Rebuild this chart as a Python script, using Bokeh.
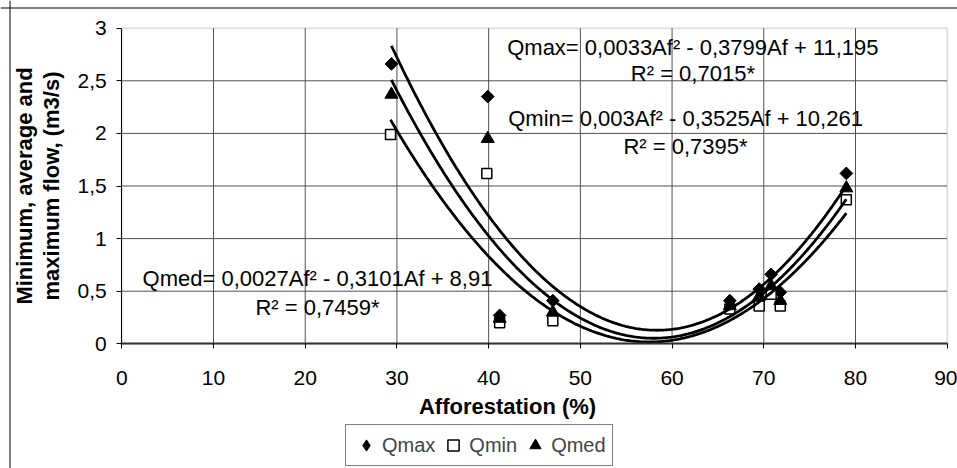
import numpy as np
from bokeh.plotting import figure
from bokeh.models import (Label, Legend, LegendItem, CustomJSTickFormatter, FixedTicker,
                          Span, BoxAnnotation)
from bokeh.embed import file_html
from bokeh.resources import INLINE

# ---------------- data ----------------
af_max = [29.4, 39.9, 41.2, 47.0, 66.3, 69.5, 70.8, 71.8, 79.0]
q_max = [2.66, 2.35, 0.27, 0.41, 0.41, 0.52, 0.66, 0.49, 1.62]

af_min = [29.3, 39.8, 41.2, 47.0, 66.3, 69.5, 70.8, 71.8, 79.0]
q_min = [1.99, 1.62, 0.20, 0.22, 0.33, 0.36, 0.47, 0.36, 1.37]

af_med = [29.4, 39.9, 41.2, 47.0, 66.3, 69.5, 70.8, 71.8, 79.0]
q_med = [2.37, 1.95, 0.24, 0.30, 0.36, 0.45, 0.55, 0.41, 1.48]

x_ticks = [0, 10, 20, 30, 40, 50, 60, 70, 80, 90]
y_ticks = [0, 0.5, 1, 1.5, 2, 2.5, 3]

series_names = ["Qmax", "Qmin", "Qmed"]
eq_texts = [
    "Qmax= 0,0033Af² - 0,3799Af + 11,195",
    "Qmin= 0,003Af² - 0,3525Af + 10,261",
    "Qmed= 0,0027Af² - 0,3101Af + 8,91",
]
r2_texts = ["R² = 0,7015*", "R² = 0,7395*", "R² = 0,7459*"]
x_title = "Afforestation (%)"
y_title = "Minimum, average and\nmaximum flow, (m3/s)"

FONT = "Liberation Sans"

# ---------------- layout (pixels inside the canvas) ----------------
W, H = 957, 468
PX_X0, PX_X90 = 121.3, 946.7      # plot-area left/right
PX_Y3, PX_Y0 = 27.7, 343.3        # plot-area top/bottom
X_MIN, X_MAX = x_ticks[0], x_ticks[-1]
Y_MIN, Y_MAX = y_ticks[0], y_ticks[-1]
sx = (PX_X90 - PX_X0) / (X_MAX - X_MIN)
sy = (PX_Y0 - PX_Y3) / (Y_MAX - Y_MIN)
xr = (X_MIN - PX_X0 / sx, X_MAX + (W - PX_X90) / sx)
yr = (Y_MIN - (H - PX_Y0) / sy, Y_MAX + PX_Y3 / sy)

p = figure(width=W, height=H, x_range=xr, y_range=yr,
           output_backend="svg", toolbar_location=None,
           min_border_left=0, min_border_right=0, min_border_top=0,
           min_border_bottom=0)
p.background_fill_color = "white"
p.border_fill_color = "white"
p.outline_line_color = None
p.xgrid.visible = False
p.ygrid.visible = False

# grid lines of the plot area (from the tick arrays)
gx = x_ticks[1:-1]
gy = y_ticks[1:-1]
p.segment(x0=gx, y0=[Y_MIN] * len(gx), x1=gx, y1=[Y_MAX] * len(gx),
          line_color="#505050", line_width=1)
p.segment(x0=[X_MIN] * len(gy), y0=gy, x1=[X_MAX] * len(gy), y1=gy,
          line_color="#505050", line_width=1)
p.add_layout(BoxAnnotation(left=X_MIN, right=X_MAX, bottom=Y_MIN, top=Y_MAX,
                           fill_color=None, line_color="#9a9a9a", line_width=2,
                           level="underlay"))

# outer chart border (left and top)
p.add_layout(Span(location=xr[0] + 9.5 / sx, dimension="height",
                  line_color="black", line_width=1))
p.add_layout(Span(location=yr[1] - 7.5 / sy, dimension="width",
                  line_color="black", line_width=1))

# axes placed at the data origin
xa, ya = p.xaxis[0], p.yaxis[0]
xa.fixed_location = Y_MIN
ya.fixed_location = X_MIN
xa.bounds = (X_MIN, X_MAX)
ya.bounds = (Y_MIN, Y_MAX)
xa.ticker = FixedTicker(ticks=x_ticks)
ya.ticker = FixedTicker(ticks=y_ticks)
ya.formatter = CustomJSTickFormatter(code="return String(tick).replace('.', ',');")
for ax in (xa, ya):
    ax.major_tick_in = 0
    ax.major_tick_out = 5
    ax.minor_tick_line_color = None
    ax.major_label_text_font = FONT
    ax.major_label_text_font_size = "21px"
    ax.major_label_text_color = "black"
    ax.major_tick_line_color = "black"
xa.axis_line_color = "#333333"
xa.axis_line_width = 2
ya.axis_line_color = "black"
xa.major_label_standoff = 22
ya.major_label_standoff = 10

ya.axis_label = y_title
ya.axis_label_text_font = FONT
ya.axis_label_text_font_size = "22px"
ya.axis_label_text_font_style = "bold"
ya.axis_label_text_color = "black"
ya.axis_label_text_line_height = 1.1
ya.axis_label_standoff = 10

# markers
r_max = p.scatter(af_max, q_max, marker="square", angle=np.pi / 4, size=9,
                  fill_color="black", line_color="black")
r_min = p.scatter(af_min, q_min, marker="square", size=10, fill_color="white",
                  line_color="black", line_width=1.5)
r_med = p.scatter(af_med, q_med, marker="triangle", size=13,
                  fill_color="black", line_color="black")
# diamond glyph used only for the legend entry of Qmax (hidden in the plot)
r_max_key = p.scatter(af_max, q_max, marker="diamond", size=13,
                      fill_color="black", line_color="black", visible=False)

# polynomial (2nd order) trend lines, least-squares fitted to each series
for xs, ys in ((af_max, q_max), (af_min, q_min), (af_med, q_med)):
    c = np.polyfit(xs, ys, 2)
    xx = np.linspace(min(xs), max(xs), 300)
    p.line(xx, np.polyval(c, xx), line_color="black", line_width=2.8)

# equation labels (centered two-line boxes)
eq_pos = [(62.27, 2.819, 2.569), (61.47, 2.139, 1.875), (21.34, 0.624, 0.342)]
for (cx, y1, y2), t1, t2 in zip(eq_pos, eq_texts, r2_texts):
    for yy, tt in ((y1, t1), (y2, t2)):
        p.add_layout(Label(x=cx, y=yy, text=tt, text_align="center",
                           text_baseline="middle", text_font=FONT,
                           text_font_size="22px", text_color="black"))

# x axis title
p.add_layout(Label(x=42.06, y=-0.596, text=x_title, text_align="center",
                   text_baseline="middle", text_font=FONT, text_font_size="22px",
                   text_font_style="bold", text_color="black"))

legend = Legend(items=[LegendItem(label=series_names[0], renderers=[r_max_key]),
                       LegendItem(label=series_names[1], renderers=[r_min]),
                       LegendItem(label=series_names[2], renderers=[r_med])],
                orientation="horizontal", location=(345, 2),
                border_line_color="black", border_line_width=1,
                background_fill_color="white", background_fill_alpha=1,
                label_text_font=FONT, label_text_font_size="20px",
                glyph_width=28, glyph_height=28, label_standoff=2,
                spacing=4, padding=6, margin=0, click_policy="none")
p.add_layout(legend)

open("out.html", "w").write(file_html(p, INLINE))
